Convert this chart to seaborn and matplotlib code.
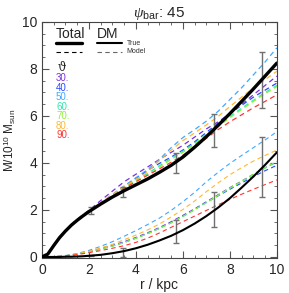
import matplotlib
matplotlib.use("Agg")
import matplotlib.pyplot as plt
from matplotlib.ticker import MultipleLocator
import numpy as np
import seaborn as sns

# radius grid (kpc)
r = [0, 0.25, 0.5, 0.75, 1, 1.25, 1.5, 1.75, 2, 2.5, 3, 3.5, 4, 4.5, 5, 5.5, 6,
     6.5, 7, 7.5, 8, 8.5, 9, 9.5, 10]

# true mass profiles (1e10 Msun)
total_true = [0, 0.12, 0.48, 0.82, 1.1, 1.35, 1.56, 1.75, 1.93, 2.25, 2.55, 2.82, 3.07,
              3.32, 3.6, 3.9, 4.25, 4.67, 5.12, 5.6, 6.1, 6.62, 7.15, 7.7, 8.25]
dm_true = [0, 0, 0, 0, 0.01, 0.01, 0.02, 0.03, 0.05, 0.09, 0.16, 0.25, 0.37, 0.52, 0.7,
           0.9, 1.14, 1.42, 1.74, 2.1, 2.5, 2.95, 3.42, 3.92, 4.45]

# model profiles, one per inclination
thetas = ["30.", "40.", "50.", "60.", "70.", "80.", "90."]
colors = ["#7a30dc", "#2848ff", "#40a8ff", "#30e8a8", "#90f038", "#ffb830", "#ff3434"]

total_model = [
    [0, 0.13, 0.5, 0.85, 1.13, 1.38, 1.6, 1.8, 1.98, 2.4, 2.8, 3.2, 3.52, 3.83, 4.15, 4.45, 4.75, 5.1, 5.45, 5.75, 6.1, 6.5, 6.9, 7.3, 7.7],
    [0, 0.12, 0.49, 0.83, 1.11, 1.36, 1.58, 1.78, 1.95, 2.3, 2.65, 3.0, 3.35, 3.68, 3.98, 4.25, 4.55, 4.9, 5.3, 5.7, 6.1, 6.45, 6.8, 7.1, 7.4],
    [0, 0.12, 0.49, 0.83, 1.11, 1.36, 1.58, 1.78, 1.95, 2.3, 2.65, 3.02, 3.37, 3.72, 4.15, 4.65, 5.08, 5.42, 5.78, 6.2, 6.7, 7.2, 7.75, 8.3, 8.9],
    [0, 0.12, 0.47, 0.81, 1.09, 1.34, 1.56, 1.76, 1.93, 2.27, 2.6, 2.95, 3.27, 3.55, 3.88, 4.2, 4.5, 4.85, 5.22, 5.6, 5.98, 6.33, 6.67, 7.0, 7.3],
    [0, 0.11, 0.46, 0.8, 1.08, 1.33, 1.55, 1.74, 1.9, 2.25, 2.6, 2.95, 3.22, 3.48, 3.82, 4.15, 4.45, 4.8, 5.17, 5.55, 5.93, 6.28, 6.62, 6.95, 7.25],
    [0, 0.11, 0.47, 0.81, 1.09, 1.34, 1.56, 1.75, 1.92, 2.3, 2.65, 3.0, 3.3, 3.62, 4.1, 4.55, 4.95, 5.28, 5.62, 5.98, 6.4, 6.8, 7.2, 7.55, 7.9],
    [0, 0.12, 0.48, 0.82, 1.1, 1.35, 1.57, 1.76, 1.92, 2.25, 2.58, 2.92, 3.2, 3.48, 3.75, 4.03, 4.33, 4.68, 5.05, 5.42, 5.75, 6.05, 6.35, 6.62, 6.9],
]
dm_model = [
    [0, 0, 0.01, 0.03, 0.05, 0.08, 0.12, 0.17, 0.23, 0.35, 0.49, 0.65, 0.83, 1.03, 1.25, 1.5, 1.77, 2.05, 2.35, 2.65, 2.95, 3.23, 3.52, 3.8, 4.05],
    [0, 0, 0.01, 0.03, 0.05, 0.08, 0.12, 0.17, 0.22, 0.33, 0.47, 0.62, 0.8, 1.0, 1.22, 1.46, 1.73, 2.02, 2.32, 2.6, 2.88, 3.15, 3.42, 3.67, 3.9],
    [0, 0, 0.01, 0.03, 0.06, 0.1, 0.15, 0.21, 0.28, 0.45, 0.65, 0.88, 1.12, 1.38, 1.65, 1.98, 2.35, 2.75, 3.2, 3.6, 3.98, 4.32, 4.65, 4.98, 5.33],
    [0, 0, 0.01, 0.03, 0.05, 0.08, 0.12, 0.17, 0.22, 0.33, 0.47, 0.62, 0.8, 1.0, 1.22, 1.46, 1.73, 2.02, 2.32, 2.62, 2.92, 3.2, 3.5, 3.78, 4.05],
    [0, 0, 0.01, 0.03, 0.05, 0.08, 0.12, 0.17, 0.22, 0.33, 0.46, 0.61, 0.79, 0.99, 1.21, 1.45, 1.72, 2.01, 2.31, 2.62, 2.93, 3.22, 3.52, 3.8, 4.07],
    [0, 0, 0.01, 0.03, 0.05, 0.09, 0.13, 0.18, 0.24, 0.38, 0.54, 0.73, 0.93, 1.15, 1.4, 1.7, 2.02, 2.38, 2.78, 3.15, 3.5, 3.8, 4.08, 4.32, 4.55],
    [0, 0, 0.01, 0.02, 0.04, 0.07, 0.1, 0.14, 0.18, 0.27, 0.37, 0.48, 0.62, 0.8, 1.02, 1.26, 1.5, 1.74, 1.98, 2.22, 2.45, 2.67, 2.88, 3.08, 3.28],
]

# error bars
r_err = [2.08, 3.45, 5.7, 7.32, 9.36]
total_lo = [1.82, 2.55, 3.56, 4.68, 6.33]
total_hi = [2.12, 2.98, 4.44, 6.08, 8.73]
dm_lo = [0.02, 0.0, 0.6, 1.28, 2.57]
dm_hi = [0.08, 0.38, 1.57, 2.78, 5.1]

sns.set_style("ticks")
plt.rcParams['font.family'] = ['Liberation Sans', 'DejaVu Sans']
plt.rcParams['mathtext.fontset'] = 'custom'
plt.rcParams['mathtext.rm'] = 'Liberation Sans'
plt.rcParams['mathtext.it'] = 'Liberation Serif:italic'

fig = plt.figure(figsize=(2.89, 2.93), dpi=100)
ax = fig.add_axes([0.145, 0.119, 0.813, 0.806])

for vals, col in zip(total_model, colors):
    sns.lineplot(x=r, y=vals, ax=ax, color=col, lw=0.9, linestyle=(0, (4, 3)))
for vals, col in zip(dm_model, colors):
    sns.lineplot(x=r, y=vals, ax=ax, color=col, lw=0.8, linestyle=(0, (4, 3)))

for lo, hi in ((total_lo, total_hi), (dm_lo, dm_hi)):
    mid = (np.array(lo) + np.array(hi)) / 2
    half = (np.array(hi) - np.array(lo)) / 2
    ax.errorbar(r_err, mid, yerr=half, fmt='none', ecolor='#707070', elinewidth=1.0,
                capsize=2.5, capthick=1.0, zorder=5)

sns.lineplot(x=r, y=total_true, ax=ax, color='black', lw=2.4, zorder=6)
sns.lineplot(x=r, y=dm_true, ax=ax, color='black', lw=1.5, zorder=6)

ax.set_xlim(0, 10)
ax.set_ylim(-0.05, 10)
ax.xaxis.set_major_locator(MultipleLocator(2))
ax.yaxis.set_major_locator(MultipleLocator(2))
ax.xaxis.set_minor_locator(MultipleLocator(0.5))
ax.yaxis.set_minor_locator(MultipleLocator(0.5))
ax.tick_params(which='both', direction='in', top=True, right=True, labelsize=10,
               color='#555555')
ax.tick_params(which='major', length=5)
ax.tick_params(which='minor', length=2.5)
for s in ax.spines.values():
    s.set_color('#444444')
    s.set_linewidth(0.8)

ax.set_xlabel('r / kpc', fontsize=10, labelpad=1)
ax.set_ylabel(r'M/10$^{10}$ M$_{\rm sun}$', fontsize=8.5, labelpad=3)
ax.set_title(r'$\psi_{\rm bar}$: 45', fontsize=11, pad=3)

# legend drawn by hand
tr = ax.transAxes
ax.text(0.06, 0.95, 'Total', transform=tr, fontsize=10, ha='left', va='center')
ax.text(0.235, 0.95, 'DM', transform=tr, fontsize=10, ha='left', va='center')
ax.plot([0.06, 0.17], [0.91, 0.91], transform=tr, color='black', lw=2.4)
ax.plot([0.235, 0.34], [0.91, 0.91], transform=tr, color='black', lw=1.5)
ax.plot([0.06, 0.17], [0.874, 0.874], transform=tr, color='black', lw=0.8, linestyle=(0, (4, 3)))
ax.plot([0.235, 0.34], [0.874, 0.874], transform=tr, color='#666666', lw=0.8, linestyle=(0, (4, 3)))
ax.text(0.36, 0.91, 'True', transform=tr, fontsize=5, ha='left', va='center', color='#333333')
ax.text(0.36, 0.874, 'Model', transform=tr, fontsize=5, ha='left', va='center', color='#333333')
ax.text(0.066, 0.806, 'ϑ', transform=tr, fontsize=8.5, ha='left', va='center',
        family=['DejaVu Serif'])
for i, (lab, col) in enumerate(zip(thetas, colors)):
    ax.text(0.06, 0.763 - i * 0.0405, lab, transform=tr, fontsize=7, ha='left',
            va='center', color=col)

fig.savefig('out.png', dpi=100)
